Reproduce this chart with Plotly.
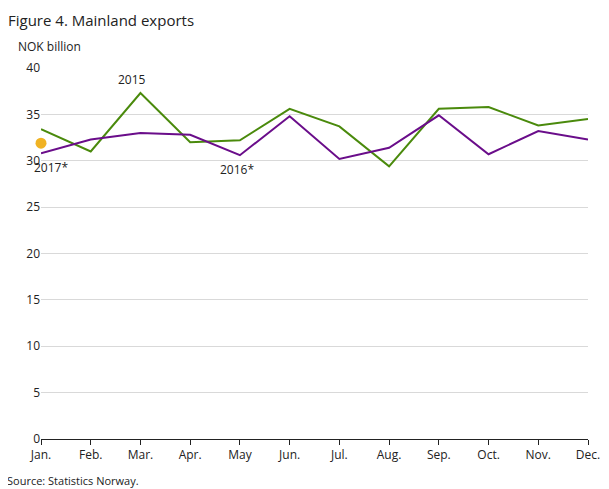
import plotly.graph_objects as go

months = ["Jan.", "Feb.", "Mar.", "Apr.", "May", "Jun.", "Jul.", "Aug.", "Sep.", "Oct.", "Nov.", "Dec."]
y2015 = [33.4, 31.0, 37.3, 32.0, 32.2, 35.6, 33.7, 29.4, 35.6, 35.8, 33.8, 34.5]
y2016 = [30.8, 32.3, 33.0, 32.8, 30.6, 34.8, 30.2, 31.4, 34.9, 30.7, 33.2, 32.3]
y2017 = [31.9]

fig = go.Figure()
fig.add_trace(go.Scatter(x=months, y=y2015, mode="lines", line=dict(color="#4a8a0c", width=2), name="2015"))
fig.add_trace(go.Scatter(x=months, y=y2016, mode="lines", line=dict(color="#6a0d8a", width=2), name="2016*"))
fig.add_trace(go.Scatter(x=months[:1], y=y2017, mode="markers", marker=dict(color="#f0b323", size=11),
                         name="2017*", cliponaxis=False))

ann = [
    dict(x="Mar.", y=37.3, text="2015", yshift=14, xshift=-8),
    dict(x="May", y=30.6, text="2016*", yshift=-14, xshift=-3),
    dict(x="Jan.", y=31.9, text="2017*", yshift=-24, xshift=10),
]
for a in ann:
    fig.add_annotation(x=a["x"], y=a["y"], text=a["text"], showarrow=False,
                       xshift=a["xshift"], yshift=a["yshift"], font=dict(size=12, color="#222"))

fig.update_layout(
    width=609, height=489,
    margin=dict(l=33, r=29, t=60, b=58, autoexpand=False),
    plot_bgcolor="white", paper_bgcolor="white",
    showlegend=False,
    font=dict(family="Open Sans", size=12, color="#222"),
    title=dict(text="Figure 4. Mainland exports", x=0.0, y=0.985, xanchor="left", yanchor="top",
               font=dict(size=15, color="#222")),
)
fig.update_xaxes(showgrid=False, showline=True, linecolor="#222", ticks="outside", ticklen=5,
                 tickcolor="#222", range=[0, 11], tickson="labels")
fig.update_yaxes(range=[0, 40], dtick=5, gridcolor="#d9d9d9", zeroline=False, showline=False)
fig.add_annotation(text="NOK billion", xref="paper", yref="paper", x=-0.045, y=1.03,
                   xanchor="left", yanchor="bottom", showarrow=False, font=dict(size=12))
fig.add_annotation(text="Source: Statistics Norway.", xref="paper", yref="paper", x=-0.065, y=-0.085,
                   xanchor="left", yanchor="top", showarrow=False, font=dict(size=11))
fig.write_html("out.html")
